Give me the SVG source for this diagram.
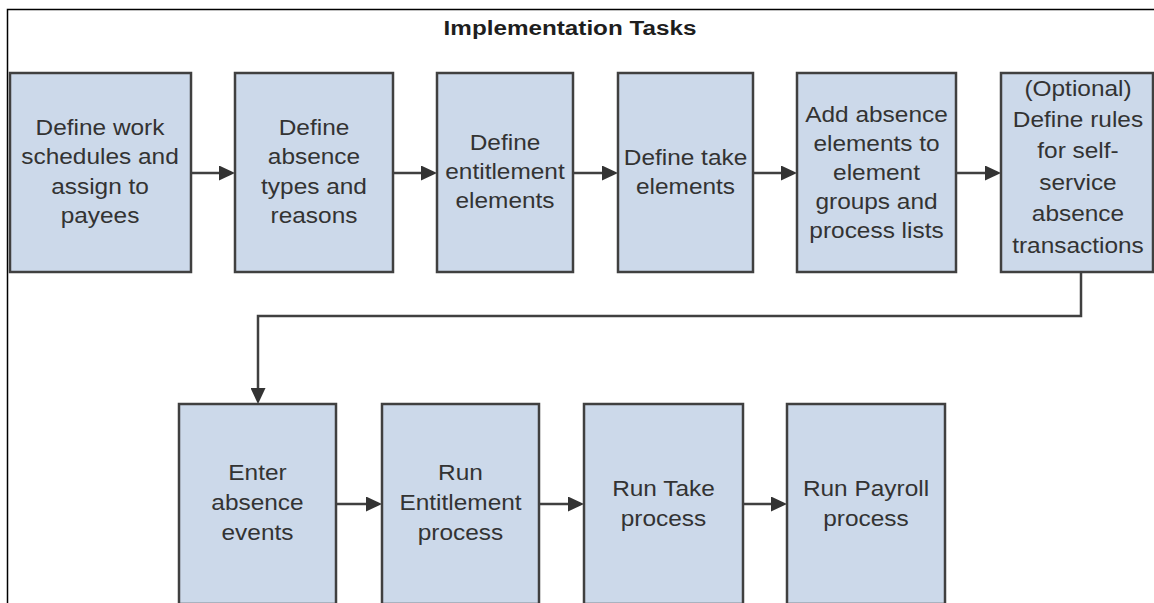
<svg xmlns="http://www.w3.org/2000/svg" width="1154" height="603" viewBox="0 0 1154 603">
<defs>
<style>
.box{fill:#ccd9ea;stroke:#404040;stroke-width:2.5}
.lbl{font-family:"Liberation Sans",Arial,sans-serif;font-size:22px;fill:#333;text-anchor:middle}
.title{font-family:"Liberation Sans",Arial,sans-serif;font-size:21px;font-weight:bold;fill:#1e1e1e;text-anchor:middle}
.conn{fill:none;stroke:#404040;stroke-width:2.5}
.frame{fill:none;stroke:#000;stroke-width:1.5}
</style>
<marker id="arr" viewBox="0 0 16 15" refX="12" refY="7.5" markerWidth="16" markerHeight="15" markerUnits="userSpaceOnUse" orient="auto">
<path d="M0,0 L16,7.5 L0,15 z" fill="#333"/>
</marker>
</defs>
<rect width="1154" height="603" fill="#fff"/>
<path class="frame" d="M7.5,603 L7.5,9.5 L1154,9.5"/>
<text class="title" transform="translate(570,0) scale(1.155,1)" x="0" y="35">Implementation Tasks</text>

<g id="connectors">
<line class="conn" x1="191" y1="173" x2="231" y2="173" marker-end="url(#arr)"/>
<line class="conn" x1="393" y1="173" x2="433" y2="173" marker-end="url(#arr)"/>
<line class="conn" x1="573" y1="173" x2="614" y2="173" marker-end="url(#arr)"/>
<line class="conn" x1="753" y1="173" x2="793" y2="173" marker-end="url(#arr)"/>
<line class="conn" x1="956" y1="173" x2="997" y2="173" marker-end="url(#arr)"/>
<path class="conn" d="M1081,272 L1081,316 L258,316 L258,400" marker-end="url(#arr)"/>
<line class="conn" x1="336" y1="504" x2="378" y2="504" marker-end="url(#arr)"/>
<line class="conn" x1="539" y1="504" x2="580" y2="504" marker-end="url(#arr)"/>
<line class="conn" x1="743" y1="504" x2="783" y2="504" marker-end="url(#arr)"/>
</g>

<g id="n1">
<rect class="box" x="10" y="73" width="181" height="199"/>
<text class="lbl" transform="translate(100,0) scale(1.11,1)"><tspan x="0" y="135">Define work</tspan><tspan x="0" y="164.5">schedules and</tspan><tspan x="0" y="194">assign to</tspan><tspan x="0" y="223.5">payees</tspan></text>
</g>
<g id="n2">
<rect class="box" x="235" y="73" width="158" height="199"/>
<text class="lbl" transform="translate(314,0) scale(1.11,1)"><tspan x="0" y="135">Define</tspan><tspan x="0" y="164.5">absence</tspan><tspan x="0" y="194">types and</tspan><tspan x="0" y="223.5">reasons</tspan></text>
</g>
<g id="n3">
<rect class="box" x="437" y="73" width="136" height="199"/>
<text class="lbl" transform="translate(505,0) scale(1.11,1)"><tspan x="0" y="150">Define</tspan><tspan x="0" y="179">entitlement</tspan><tspan x="0" y="208">elements</tspan></text>
</g>
<g id="n4">
<rect class="box" x="618" y="73" width="135" height="199"/>
<text class="lbl" transform="translate(685.5,0) scale(1.11,1)"><tspan x="0" y="165">Define take</tspan><tspan x="0" y="194">elements</tspan></text>
</g>
<g id="n5">
<rect class="box" x="797" y="73" width="159" height="199"/>
<text class="lbl" transform="translate(876.5,0) scale(1.11,1)"><tspan x="0" y="122">Add absence</tspan><tspan x="0" y="151">elements to</tspan><tspan x="0" y="180">element</tspan><tspan x="0" y="209">groups and</tspan><tspan x="0" y="238">process lists</tspan></text>
</g>
<g id="n6">
<rect class="box" x="1001" y="73" width="152" height="199"/>
<text class="lbl" transform="translate(1078,0) scale(1.11,1)"><tspan x="0" y="96">(Optional)</tspan><tspan x="0" y="127">Define rules</tspan><tspan x="0" y="158.5">for self-</tspan><tspan x="0" y="190">service</tspan><tspan x="0" y="221.5">absence</tspan><tspan x="0" y="253">transactions</tspan></text>
</g>
<g id="n7">
<rect class="box" x="179" y="404" width="157" height="200"/>
<text class="lbl" transform="translate(257.5,0) scale(1.11,1)"><tspan x="0" y="480">Enter</tspan><tspan x="0" y="510">absence</tspan><tspan x="0" y="540">events</tspan></text>
</g>
<g id="n8">
<rect class="box" x="382" y="404" width="157" height="200"/>
<text class="lbl" transform="translate(460.5,0) scale(1.11,1)"><tspan x="0" y="480">Run</tspan><tspan x="0" y="510">Entitlement</tspan><tspan x="0" y="540">process</tspan></text>
</g>
<g id="n9">
<rect class="box" x="584" y="404" width="159" height="200"/>
<text class="lbl" transform="translate(663.5,0) scale(1.11,1)"><tspan x="0" y="496">Run Take</tspan><tspan x="0" y="526">process</tspan></text>
</g>
<g id="n10">
<rect class="box" x="787" y="404" width="158" height="200"/>
<text class="lbl" transform="translate(866,0) scale(1.11,1)"><tspan x="0" y="496">Run Payroll</tspan><tspan x="0" y="526">process</tspan></text>
</g>
</svg>
